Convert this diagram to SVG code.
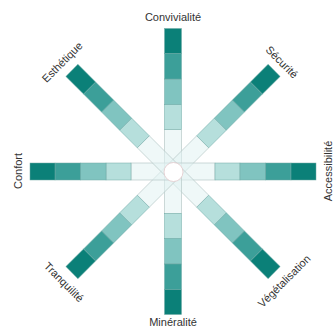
<svg xmlns="http://www.w3.org/2000/svg" xmlns:xlink="http://www.w3.org/1999/xlink" width="335" height="332" viewBox="0 0 335 332">
  <style>
    .lbl { font-family: "Liberation Sans", Arial, sans-serif; font-size: 11px; fill: #333333; text-anchor: middle; dominant-baseline: central; }
    .seg { stroke: #6fa9a5; stroke-width: 0.5; }
    .s1 { fill: #e2f3f2; fill-opacity: 0.55; stroke: #b8c9c8; stroke-width: 0.7; }
    .s2 { fill: #b6dfdc; }
    .s3 { fill: #80c4c0; }
    .s4 { fill: #3c9f99; }
    .s5 { fill: #0b8078; }
  </style>
  <defs>
    <g id="inner">
      <rect class="s1" x="-8.5" y="-42" width="17" height="42"/>
    </g>
    <g id="outer">
      <rect class="seg s2" x="-8.5" y="-67" width="17" height="25"/>
      <rect class="seg s3" x="-8.5" y="-92.5" width="17" height="25.5"/>
      <rect class="seg s4" x="-8.5" y="-118" width="17" height="25.5"/>
      <rect class="seg s5" x="-8.5" y="-143" width="17" height="25"/>
    </g>
  </defs>
  <rect x="0" y="0" width="335" height="332" fill="#ffffff"/>
  <g id="connectors" transform="translate(173 171.5)">
    <use xlink:href="#inner"/>
    <use xlink:href="#inner" transform="rotate(45)"/>
    <use xlink:href="#inner" transform="rotate(90)"/>
    <use xlink:href="#inner" transform="rotate(135)"/>
    <use xlink:href="#inner" transform="rotate(180)"/>
    <use xlink:href="#inner" transform="rotate(225)"/>
    <use xlink:href="#inner" transform="rotate(270)"/>
    <use xlink:href="#inner" transform="rotate(315)"/>
    <circle cx="0.5" cy="0.5" r="9.5" fill="#ffffff" stroke="#e3c9cc" stroke-width="0.8"/>
  </g>
  <g id="convivialite">
    <use xlink:href="#outer" transform="translate(173 171.5)"/>
    <text class="lbl" x="173" y="17">Convivialité</text>
  </g>
  <g id="securite">
    <use xlink:href="#outer" transform="translate(173 171.5) rotate(45)"/>
    <text class="lbl" transform="translate(282 62) rotate(45)">Sécurité</text>
  </g>
  <g id="accessibilite">
    <use xlink:href="#outer" transform="translate(173 171.5) rotate(90)"/>
    <text class="lbl" transform="translate(328 171) rotate(-90)">Accessibilité</text>
  </g>
  <g id="vegetalisation">
    <use xlink:href="#outer" transform="translate(173 171.5) rotate(135)"/>
    <text class="lbl" transform="translate(284 281) rotate(-45)">Végétalisation</text>
  </g>
  <g id="mineralite">
    <use xlink:href="#outer" transform="translate(173 171.5) rotate(180)"/>
    <text class="lbl" x="173" y="322">Minéralité</text>
  </g>
  <g id="tranquilite">
    <use xlink:href="#outer" transform="translate(173 171.5) rotate(225)"/>
    <text class="lbl" transform="translate(64 282) rotate(45)">Tranquilité</text>
  </g>
  <g id="confort">
    <use xlink:href="#outer" transform="translate(173 171.5) rotate(270)"/>
    <text class="lbl" transform="translate(18 171) rotate(-90)">Confort</text>
  </g>
  <g id="esthetique">
    <use xlink:href="#outer" transform="translate(173 171.5) rotate(315)"/>
    <text class="lbl" transform="translate(62 62) rotate(-45)">Esthétique</text>
  </g>
</svg>
